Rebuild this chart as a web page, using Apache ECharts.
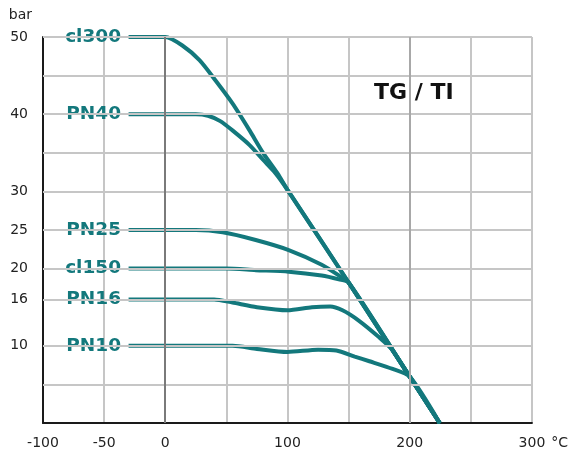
<!DOCTYPE html>
<html>
<head>
<meta charset="utf-8">
<script src="https://cdn.jsdelivr.net/npm/echarts@6/dist/echarts.min.js"></script>
<style>html,body{margin:0;padding:0;background:#fff}#c{width:571px;height:454px}</style>
</head>
<body>
<div id="c"></div>
<script>
const xLabelValues = [-100, -50, 0, 100, 200, 300];
const yLabelValues = [10, 16, 20, 25, 30, 40, 50];
const xGridStep = 50;
const xDarkGridValues = [0, 200];
const yGridValues = [5, 10, 16, 20, 25, 30, 35, 40, 45, 50];

const seriesNames = ['cl300', 'PN40', 'PN25', 'cl150', 'PN16', 'PN10'];
const cl300 = [[-30,50],[-5,50],[0,50],[14,48.9],[28,47],[41,44.4],[55,41.4],[69,37.9],[80,35.0],[92,32.3],[100,30.2],[150,18.2],[200,6],[224.5,0]];
const pn40  = [[-30,40],[15,40],[25,40],[35,39.8],[45,39.1],[55,37.9],[69,36.0],[80,34.1],[90,32.4],[100,30.2],[150,18.2],[200,6],[224.5,0]];
const pn25  = [[-30,25],[10,25],[25,25],[47,24.7],[74,23.7],[101,22.4],[128,20.5],[143,19.0],[150,18.2],[200,6],[224.5,0]];
const cl150 = [[-30,20],[30,20],[50,20],[74,19.8],[101,19.6],[128,19.1],[142,18.6],[150,18.2],[200,6],[224.5,0]];
const pn16  = [[-30,16],[25,16],[40,16],[55,15.6],[75,15.0],[100,14.6],[120,15.0],[135,15.1],[145,14.6],[158,13.3],[175,11.1],[185,9.6],[200,6],[224.5,0]];
const pn10  = [[-30,10],[40,10],[55,10],[75,9.6],[100,9.2],[125,9.5],[140,9.4],[155,8.6],[167,8.0],[186,7.0],[200,6],[224.5,0]];
const seriesData = [cl300, pn40, pn25, cl150, pn16, pn10];

const TEAL = '#13787c';
const chart = echarts.init(document.getElementById('c'));

const gridLines = [];
yGridValues.forEach(v => gridLines.push({ yAxis: v, lineStyle: { color: '#c6c6c6', width: 2 } }));
xDarkGridValues.forEach(v => gridLines.push({ xAxis: v, lineStyle: { color: v === 0 ? '#7a7a7a' : '#a8a8a8', width: 2 } }));

const series = [{
  type: 'line', data: [], z: 1, silent: true,
  markLine: { silent: true, symbol: ['none', 'none'], label: { show: false }, animation: false,
    lineStyle: { type: 'solid' }, data: gridLines }
}];
seriesNames.forEach((name, i) => {
  series.push({
    name: name, type: 'line', z: 3, smooth: 0.25,
    symbol: 'circle', symbolSize: 1, showSymbol: true, showAllSymbol: true,
    itemStyle: { color: TEAL },
    lineStyle: { color: TEAL, width: 4 },
    data: seriesData[i].map((p, j) => j === 0 ? {
      value: p,
      label: { show: true, position: 'left', distance: 7, formatter: name,
        color: TEAL, textBorderWidth: 0, textBorderColor: 'transparent',
        fontFamily: 'DejaVu Sans', fontWeight: 'bold', fontSize: 18.5 }
    } : { value: p })
  });
});

chart.setOption({
  animation: false,
  grid: { left: 43, right: 38, top: 37, bottom: 31, containLabel: false },
  xAxis: {
    type: 'value', min: -100, max: 300, interval: xGridStep,
    name: '°C', nameLocation: 'end', nameGap: 9,
    nameTextStyle: { color: '#222', fontFamily: 'DejaVu Sans', fontSize: 14, align: 'left', verticalAlign: 'top', padding: [13, 0, 0, 0] },
    axisLine: { show: true, onZero: false, lineStyle: { color: '#1a1a1a', width: 2 } },
    axisTick: { show: false },
    splitLine: { show: true, lineStyle: { color: '#c6c6c6', width: 2 } },
    axisLabel: { customValues: xLabelValues, color: '#222', fontFamily: 'DejaVu Sans', fontSize: 14, margin: 13 }
  },
  yAxis: {
    type: 'value', min: 0, max: 50,
    name: 'bar', nameLocation: 'end', nameGap: 15,
    nameTextStyle: { color: '#222', fontFamily: 'DejaVu Sans', fontSize: 14, align: 'right', padding: [0, 11, 0, 0] },
    axisLine: { show: true, onZero: false, lineStyle: { color: '#1a1a1a', width: 2 } },
    axisTick: { show: false },
    splitLine: { show: false },
    axisLabel: { customValues: yLabelValues, color: '#222', fontFamily: 'DejaVu Sans', fontSize: 14, margin: 15 }
  },
  graphic: [{
    type: 'text', left: 374, top: 82,
    style: { text: 'TG / TI', fill: '#111', font: 'bold 22px "DejaVu Sans"' }
  }],
  series: series
});
</script>
</body>
</html>
